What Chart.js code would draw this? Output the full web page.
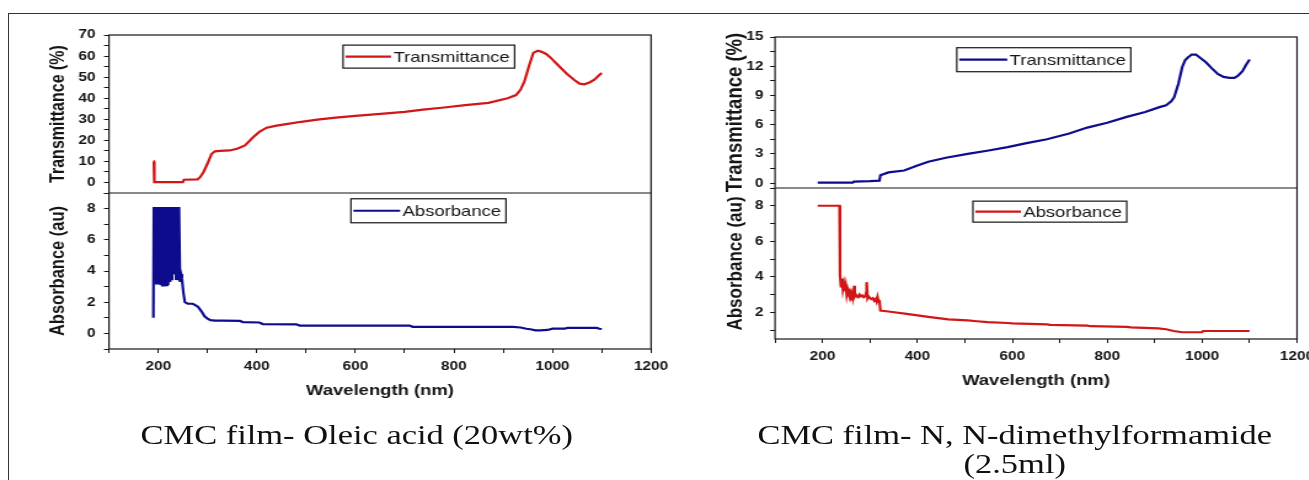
<!DOCTYPE html>
<html>
<head>
<meta charset="utf-8">
<script src="https://cdn.jsdelivr.net/npm/chart.js@4.4.1/dist/chart.umd.min.js"></script>
<style>
  html, body { margin: 0; padding: 0; background: #fff; overflow: hidden; width: 1309px; height: 480px; }
  #frame { position: absolute; left: 8px; top: 13px; width: 1400px; height: 500px; border-top: 1px solid #333; border-left: 1px solid #333; }
  /* the source picture is stretched sideways, so the whole page is drawn narrow and scaled */
  #page { position: absolute; left: 0; top: 0; width: 1064px; height: 480px; transform: scaleX(1.23); transform-origin: 0 0; }
  canvas { position: absolute; top: 0; }
  .cap { position: absolute; font-family: "Liberation Serif", "Times New Roman", serif; font-size: 28px; line-height: 28px; color: #111; white-space: nowrap; transform: translateX(-50%); }
</style>
</head>
<body>
<div id="frame"></div>
<div id="page">
  <canvas id="oa" width="553" height="410" style="left:0"></canvas>
  <canvas id="dmf" width="530" height="400" style="left:561px"></canvas>
  <div class="cap" style="left:290px; top:421px">CMC film- Oleic acid (20wt%)</div>
  <div class="cap" style="left:825px; top:421px">CMC film- N, N-dimethylformamide</div>
  <div class="cap" style="left:825px; top:450px">(2.5ml)</div>
</div>
<script>
const RED = '#d01616';
const NAVY = '#0c0c8c';
const INK = '#151515';
const FONT = "'Liberation Sans', Arial, sans-serif";

// shared wavelength axis (nm)
const xTicks = [100, 200, 300, 400, 500, 600, 700, 800, 900, 1000, 1100, 1200];
const xLabels = [200, 400, 600, 800, 1000, 1200];

// CMC film - Oleic acid (20wt%)
const oaTransWl = [190, 191, 192, 250, 252, 280, 285, 292, 300, 308, 315, 325, 345, 360, 376, 393, 405, 420, 440, 463,
  490, 523, 560, 600, 651, 700, 737, 780, 823, 870, 909, 926, 935, 943, 952, 961, 970, 978, 987, 995,
  1010, 1029, 1045, 1055, 1065, 1076, 1085, 1094, 1100];
const oaTrans = [10, 10, 0.2, 0.2, 1.3, 1.5, 2.5, 5, 9, 13.5, 14.8, 15, 15.2, 16, 17.6, 21.6, 24, 26, 27, 27.8,
  28.8, 29.8, 30.8, 31.6, 32.6, 33.5, 34.6, 35.6, 36.7, 37.8, 40, 41.5, 44, 48, 55, 61.5, 62.5, 62, 61, 59.5,
  56, 51.6, 48.5, 46.9, 46.6, 47.6, 48.8, 50.8, 52];
const oaAbsWl = [190, 191, 192, 194, 196, 198, 200, 202, 204, 206, 208, 210, 212, 214, 216, 218, 220, 222, 224, 226,
  228, 230, 232, 234, 236, 238, 240, 242, 244, 246, 248, 251, 254, 260, 270, 276, 281, 288, 294, 300,
  306, 315, 330, 366, 372, 405, 412, 480, 487, 710, 716, 920, 935, 947, 958, 965, 975, 990, 1000, 1025,
  1030, 1090, 1095, 1100];
const oaAbs = [1.0, 8.1, 5.5, 8.1, 3.2, 8.1, 3.2, 8.1, 3.1, 8.1, 3.0, 8.1, 3.0, 8.1, 3.1, 8.1, 3.1, 8.1, 3.3, 8.1,
  3.4, 8.1, 3.8, 8.1, 3.5, 8.1, 3.4, 8.1, 3.3, 3.8, 3.5, 2.6, 2.0, 1.9, 1.9, 1.8, 1.7, 1.4, 1.1, 0.95,
  0.85, 0.82, 0.82, 0.8, 0.72, 0.7, 0.6, 0.58, 0.5, 0.5, 0.42, 0.42, 0.38, 0.3, 0.25, 0.2, 0.2, 0.22, 0.3, 0.3,
  0.35, 0.35, 0.3, 0.28];
const oaTransTicks = [-5, 0, 5, 10, 15, 20, 25, 30, 35, 40, 45, 50, 55, 60, 65, 70];
const oaTransLabels = [0, 10, 20, 30, 40, 50, 60, 70];
const oaAbsTicks = [-1, 0, 1, 2, 3, 4, 5, 6, 7, 8, 9];
const oaAbsLabels = [0, 2, 4, 6, 8];

// CMC film - N, N-dimethylformamide (2.5ml)
const dmfTransWl = [190, 264, 266, 300, 320, 322, 339, 372, 400, 423, 460, 506, 550, 590, 630, 673, 720, 758, 800, 841,
  880, 910, 924, 935, 941, 950, 958, 964, 970, 978, 987, 995, 1008, 1020, 1033, 1045, 1058, 1068, 1075, 1085,
  1092, 1100];
const dmfTrans = [0.05, 0.05, 0.15, 0.2, 0.25, 0.8, 1.1, 1.3, 1.8, 2.2, 2.6, 3.0, 3.35, 3.7, 4.1, 4.5, 5.1, 5.7, 6.2, 6.8,
  7.3, 7.8, 8.0, 8.4, 8.8, 10.2, 11.9, 12.6, 12.9, 13.2, 13.2, 12.9, 12.4, 11.8, 11.2, 10.9, 10.8, 10.8, 11.0, 11.5,
  12.1, 12.7];
const dmfAbsWl = [190, 236, 237, 239, 241, 243, 245, 247, 249, 251, 253, 255, 257, 259, 261, 263, 265, 267, 268, 270,
  272, 275, 278, 281, 284, 287, 290, 292, 293, 295, 297, 300, 303, 306, 309, 312, 314, 316, 318, 320,
  322, 339, 381, 423, 465, 506, 525, 548, 590, 600, 673, 680, 758, 765, 841, 850, 907, 924, 940, 958,
  1000, 1002, 1100];
const dmfAbs = [8.0, 8.0, 4.1, 3.4, 3.9, 3.3, 3.6, 3.2, 3.5, 3.0, 3.3, 3.1, 3.2, 2.9, 3.1, 2.9, 3.0, 3.5, 2.9, 3.0,
  2.9, 2.85, 3.0, 2.9, 2.95, 2.85, 2.9, 3.1, 3.7, 2.8, 2.9, 2.8, 2.75, 2.8, 2.65, 2.75, 2.6, 2.85, 2.6, 2.7,
  2.1, 2.05, 1.9, 1.75, 1.6, 1.55, 1.5, 1.45, 1.4, 1.38, 1.32, 1.3, 1.25, 1.22, 1.18, 1.15, 1.1, 1.05, 0.95, 0.88,
  0.88, 0.95, 0.95];
const dmfTransTicks = [0, 1.5, 3, 4.5, 6, 7.5, 9, 10.5, 12, 13.5, 15];
const dmfTransLabels = [0, 3, 6, 9, 12, 15];
const dmfAbsTicks = [1, 2, 3, 4, 5, 6, 7, 8, 9];
const dmfAbsLabels = [2, 4, 6, 8];

const pts = (xs, ys) => xs.map((x, i) => ({ x, y: ys[i] }));

// box round both plots plus the line between them
const framePlugin = {
  id: 'frame',
  afterDraw(chart) {
    const { ctx, chartArea: a, scales } = chart;
    ctx.save();
    ctx.strokeStyle = INK;
    ctx.lineWidth = 1.2;
    ctx.strokeRect(a.left, a.top, a.right - a.left, a.bottom - a.top);
    ctx.beginPath();
    ctx.moveTo(a.left, scales.yT.bottom);
    ctx.lineTo(a.right, scales.yT.bottom);
    ctx.stroke();
    ctx.restore();
  }
};

// Origin style legend box inside each plot
const boxLegendPlugin = {
  id: 'boxLegend',
  afterDatasetsDraw(chart, args, opts) {
    const { ctx } = chart;
    ctx.save();
    opts.items.forEach(it => {
      const ds = chart.data.datasets[it.dataset];
      const meta = chart.getDatasetMeta(it.dataset);
      const x = chart.scales.x.getPixelForValue(it.x);
      const y = chart.scales[meta.yAxisID].getPixelForValue(it.y);
      ctx.font = '15px ' + FONT;
      const tw = ctx.measureText(ds.label).width;
      const w = 2 + it.line + 2 + tw + 4;
      ctx.fillStyle = '#fff';
      ctx.fillRect(x, y, w, it.h);
      ctx.strokeStyle = INK;
      ctx.lineWidth = 1.2;
      ctx.strokeRect(x, y, w, it.h);
      ctx.strokeStyle = ds.borderColor;
      ctx.lineWidth = 2.2;
      ctx.beginPath();
      ctx.moveTo(x + 2, y + it.h / 2);
      ctx.lineTo(x + 2 + it.line, y + it.h / 2);
      ctx.stroke();
      ctx.fillStyle = INK;
      ctx.textBaseline = 'middle';
      ctx.fillText(ds.label, x + 4 + it.line, y + it.h / 2 + 1);
    });
    ctx.restore();
  }
};

const gridOpts = { display: true, drawOnChartArea: false, drawTicks: true, tickLength: 4, color: INK, tickColor: INK, lineWidth: 1 };

function yAxis(min, max, ticks, labels, title, titleSize, titlePad, tickPad, weight, width) {
  return {
    type: 'linear', position: 'left', stack: 'panel', stackWeight: weight,
    min, max,
    afterBuildTicks: a => { a.ticks = ticks.map(v => ({ value: v })); },
    afterFit: a => { a.width = width; },
    grid: gridOpts,
    border: { display: false },
    ticks: {
      color: INK, autoSkip: false, padding: tickPad,
      font: { family: FONT, size: 12.5, weight: 'bold' },
      callback: v => labels.includes(v) ? String(v) : ''
    },
    title: {
      display: true, text: title, color: INK,
      font: { family: FONT, size: titleSize, weight: 'bold' },
      padding: { top: titlePad, bottom: 0 }
    }
  };
}

function panel(id, c) {
  return new Chart(document.getElementById(id), {
    type: 'line',
    data: {
      datasets: [
        { label: 'Transmittance', data: pts(c.transWl, c.trans), borderColor: c.transColor, yAxisID: 'yT' },
        { label: 'Absorbance', data: pts(c.absWl, c.abs), borderColor: c.absColor, yAxisID: 'yA' }
      ]
    },
    options: {
      responsive: false,
      animation: false,
      devicePixelRatio: 1,
      parsing: false,
      elements: { line: { borderWidth: 2.2, tension: 0 }, point: { radius: 0 } },
      layout: { padding: { top: c.top, right: c.right, left: 0, bottom: 0 } },
      plugins: {
        legend: { display: false },
        tooltip: { enabled: false },
        boxLegend: { items: c.legends }
      },
      scales: {
        x: {
          type: 'linear', position: 'bottom', min: 100, max: 1200,
          afterBuildTicks: a => { a.ticks = xTicks.map(v => ({ value: v })); },
          afterFit: a => { a.height = c.xHeight; },
          grid: gridOpts,
          border: { display: false },
          ticks: {
            color: INK, autoSkip: false, maxRotation: 0, padding: 6,
            font: { family: FONT, size: 12.5, weight: 'bold' },
            callback: v => xLabels.includes(v) ? String(v) : ''
          },
          title: {
            display: true, text: 'Wavelength (nm)', color: INK,
            font: { family: FONT, size: 15, weight: 'bold' },
            padding: { top: 0, bottom: 10 }
          }
        },
        yA: c.yA,
        yT: c.yT
      }
    },
    plugins: [framePlugin, boxLegendPlugin]
  });
}

panel('oa', {
  transWl: oaTransWl, trans: oaTrans, transColor: RED,
  absWl: oaAbsWl, abs: oaAbs, absColor: NAVY,
  top: 35, right: 23.7, xHeight: 61,
  yT: yAxis(-5, 70, oaTransTicks, oaTransLabels, 'Transmittance (%)', 16, 38.4, 7, 158, 88.6),
  yA: yAxis(-1, 9, oaAbsTicks, oaAbsLabels, 'Absorbance (au)', 16.5, 38, 7, 156, 88.6),
  legends: [
    { dataset: 0, x: 575, y: 65.2, h: 23, line: 37 },
    { dataset: 1, x: 591, y: 8.63, h: 24, line: 38 }
  ]
});

panel('dmf', {
  transWl: dmfTransWl, trans: dmfTrans, transColor: NAVY,
  absWl: dmfAbsWl, abs: dmfAbs, absColor: RED,
  top: 37, right: 36.5, xHeight: 61,
  yT: yAxis(-0.5, 15, dmfTransTicks, dmfTransLabels, 'Transmittance (%)', 18.5, 26, 5.5, 151, 69.1),
  yA: yAxis(0.5, 9, dmfAbsTicks, dmfAbsLabels, 'Absorbance (au)', 17, 26.8, 5.5, 151, 69.1),
  legends: [
    { dataset: 0, x: 483, y: 13.9, h: 24, line: 39 },
    { dataset: 1, x: 517, y: 8.26, h: 21, line: 37 }
  ]
});
</script>
</body>
</html>
